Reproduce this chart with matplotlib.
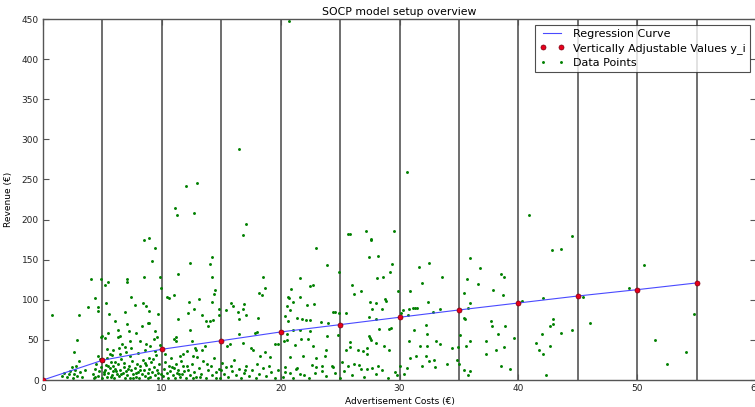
import numpy as np
import matplotlib
matplotlib.use("Agg")
import matplotlib.pyplot as plt

title = "SOCP model setup overview"
x_label = "Advertisement Costs (€)"
y_label = "Revenue (€)"
legend_labels = ["Regression Curve", "Vertically Adjustable Values y_i", "Data Points"]

reg_x = [0, 5, 10, 15, 20, 25, 30, 35, 40, 45, 50, 55]
reg_y = [0, 24.6, 38.3, 49.0, 59.9, 69.0, 78.2, 87.3, 96.0, 104.7, 112.6, 121.0]
vline_x = [5, 10, 15, 20, 25, 30, 35, 40, 45, 50, 55]

data_points = [
    # high / sparse
    (20.7, 448), (16.5, 288), (30.6, 259), (13.0, 245.6), (12.0, 242.3), (11.1, 214.5),
    (11.3, 205.3), (12.7, 208.6), (40.9, 205.7), (17.1, 194), (16.8, 180.4), (8.5, 174),
    (8.9, 177), (25.8, 182), (27.2, 185.4), (29.5, 185.4), (27.6, 175.4), (44.5, 179.6),
    (42.8, 161.7), (43.6, 163.8), (23.0, 164), (9.4, 165), (14.2, 153), (27.4, 153),
    (28.2, 155), (35.9, 152.5), (50.6, 143.4), (14.05, 144), (12.4, 145.5), (32.5, 145.5),
    (29.4, 145), (9.2, 148), (31.6, 140.5), (36.8, 139), (23.9, 143),
    # region 0-10
    (0.73, 80.6), (4.0, 126), (4.9, 125.5), (5.2, 119), (5.5, 122), (4.4, 102), (3.8, 90.6),
    (4.6, 91.4), (4.65, 86), (3.06, 80.6), (5.3, 95.6), (5.55, 82), (7.1, 125.5), (7.1, 122.6),
    (8.5, 128), (9.85, 128), (7.4, 103.5), (7.7, 94), (8.45, 96.4), (8.7, 92), (8.9, 86),
    (9.7, 82), (6.9, 85), (10.4, 103), (6.1, 73.5), (7.1, 69.4), (6.3, 62), (7.27, 60.7),
    (8.3, 67), (8.8, 71), (8.95, 71), (9.4, 61), (9.6, 53.6), (9.3, 50.7), (7.8, 59),
    (7.3, 48.6), (8.2, 49), (4.9, 53.6), (5.0, 55), (5.2, 52), (5.5, 58.6), (6.3, 53.6),
    (6.5, 55.3), (2.9, 49.5), (2.6, 35.3), (6.65, 44.5), (6.4, 40), (6.9, 41), (7.4, 39.5),
    (5.9, 38), (5.4, 39), (8.7, 44.5), (9.0, 42), (9.85, 43.6), (9.4, 36), (9.9, 115),
    (1.6, 5), (1.8, 9), (2.0, 4), (2.2, 7), (2.3, 11), (2.5, 3), (2.6, 8), (2.7, 13),
    (2.9, 5), (3.0, 24), (2.4, 16), (2.8, 18), (3.1, 10), (3.3, 4), (3.5, 12),
    (4.2, 8), (4.4, 14), (4.5, 20), (4.6, 5), (4.7, 11), (4.8, 26), (4.9, 16), (4.95, 3),
    (4.6, 30), (4.3, 2),
    (5.1, 7), (5.2, 12), (5.3, 19), (5.4, 4), (5.5, 9), (5.6, 15), (5.7, 22), (5.8, 6),
    (5.9, 11), (5.35, 28), (5.8, 31), (5.05, 24),
    (6.0, 3), (6.1, 14), (6.2, 8), (6.3, 20), (6.4, 5), (6.5, 12), (6.6, 26), (6.7, 9),
    (6.8, 16), (6.9, 3), (6.45, 33), (6.05, 22),
    (7.0, 11), (7.1, 6), (7.2, 18), (7.3, 2), (7.4, 13), (7.5, 24), (7.6, 8), (7.7, 15),
    (7.8, 4), (7.9, 20), (7.35, 30),
    (8.0, 10), (8.1, 3), (8.2, 17), (8.3, 7), (8.4, 25), (8.5, 12), (8.6, 5), (8.7, 19),
    (8.8, 9), (8.9, 28), (8.95, 14),
    (9.0, 4), (9.1, 22), (9.2, 10), (9.3, 16), (9.4, 6), (9.5, 31), (9.6, 13), (9.7, 2),
    (9.8, 20), (9.9, 8),
    (5.15, 10), (5.45, 17), (5.75, 4), (6.15, 11), (6.55, 7), (6.85, 21), (7.15, 14),
    (7.55, 3), (7.85, 9), (8.15, 13), (8.55, 21), (8.85, 3), (9.25, 26), (9.65, 9),
    (5.6, 33), (7.0, 35), (8.0, 34), (8.6, 37), (4.4, 4), (5.9, 17),
    # region 10-20
    (14.25, 128), (11.4, 132), (11.0, 105.6), (10.6, 102.6), (13.1, 101), (14.5, 112),
    (14.4, 107), (14.2, 97), (12.3, 97), (12.7, 88), (11.4, 75.6), (12.2, 83), (13.4, 81),
    (13.7, 73), (14.05, 73.6), (14.3, 74.4), (13.9, 67), (14.8, 88.5), (14.8, 80.6),
    (12.4, 62), (11.2, 53.6), (11.2, 48.6), (11.0, 50.7), (15.8, 96.4), (15.4, 87.7),
    (16.0, 92), (16.4, 85), (16.8, 89), (17.1, 81), (16.5, 76.5), (16.9, 94.8),
    (18.5, 129), (18.7, 115), (18.2, 109), (18.4, 105.6), (18.1, 77.7), (17.8, 59),
    (18.0, 60), (16.5, 57), (16.8, 46.5), (15.7, 44.5), (15.5, 42.4), (17.5, 39.5),
    (17.7, 38), (18.7, 35), (18.3, 30), (19.1, 29), (19.5, 44.5), (19.8, 44.5),
    (12.5, 48.6), (12.75, 40), (12.1, 36), (11.8, 32), (11.5, 30), (12.9, 37), (13.4, 38),
    (13.6, 42.4), (12.65, 29.5), (13.0, 28.7),
    (10.1, 5), (10.2, 14), (10.3, 22), (10.4, 9), (10.5, 3), (10.6, 18), (10.7, 11),
    (10.8, 27), (10.9, 6), (11.0, 15), (11.1, 2), (11.2, 20), (11.3, 9), (11.4, 13),
    (11.5, 4), (11.6, 24), (11.7, 8), (11.8, 17), (11.9, 11), (12.0, 3), (12.2, 13),
    (12.4, 6), (12.5, 20), (12.7, 10), (12.9, 4), (13.1, 15), (13.3, 8), (13.5, 24),
    (13.7, 3), (13.9, 12), (14.1, 18), (14.2, 6), (14.4, 27), (14.6, 10), (14.8, 14),
    (14.9, 3), (15.1, 21), (15.2, 8), (15.4, 16), (15.6, 4), (15.9, 11), (16.2, 6),
    (16.5, 14), (16.7, 2), (16.9, 9), (17.1, 18), (17.3, 5), (17.6, 12), (17.9, 3),
    (18.2, 8), (18.5, 15), (18.8, 5), (19.2, 10), (19.5, 3), (19.8, 13),
    (10.3, 33), (10.85, 16), (11.45, 7), (12.1, 18), (12.6, 2), (13.2, 4), (13.8, 20),
    (14.6, 2), (15.0, 12), (15.8, 18), (16.1, 25), (17.0, 12), (18.0, 20), (19.0, 17),
    # region 20-30
    (25.7, 181.6), (27.6, 175), (24.95, 134.7), (29.2, 134.7), (28.6, 129), (28.1, 127.6),
    (21.6, 127.6), (20.9, 114), (22.7, 119), (22.5, 117), (26.0, 118), (26.2, 107),
    (26.8, 111), (29.9, 111), (20.6, 103.5), (20.7, 102), (21.0, 97.7), (20.5, 92),
    (20.8, 87), (21.6, 103.5), (22.25, 94), (22.8, 95), (24.4, 84.8), (24.6, 85),
    (24.9, 83.5), (25.5, 84), (27.5, 97), (28.0, 95.6), (28.8, 100.6), (28.9, 98.5),
    (28.5, 88), (27.7, 88), (27.4, 78.5), (28.0, 75.6), (28.3, 64), (29.1, 64), (29.3, 65),
    (20.4, 80), (20.6, 73.6), (21.4, 77.7), (21.8, 75.6), (22.1, 74.4), (22.5, 75),
    (23.4, 72.7), (24.0, 71.5), (21.0, 62), (21.6, 62.8), (22.5, 61), (20.5, 57),
    (20.5, 50), (20.3, 48.6), (21.2, 43.6), (21.7, 50.7), (22.3, 51.5), (22.7, 43),
    (23.9, 55), (23.8, 38), (24.8, 56), (25.8, 47.4), (25.8, 41.6), (25.5, 38), (26.5, 38),
    (27.4, 55), (27.5, 52), (27.6, 49.5), (28.0, 46.5), (27.3, 40.3), (26.9, 36),
    (27.3, 33), (28.7, 43), (29.1, 38), (20.8, 28.7), (21.9, 29.5), (22.98, 27.8),
    (23.7, 30), (22.6, 18.3), (23.0, 16), (23.5, 17.5), (24.3, 17.5), (24.4, 16.5),
    (21.4, 15.4), (21.3, 14), (20.4, 10), (20.75, 9), (20.4, 15.8), (22.0, 5.8),
    (22.9, 8.3), (23.5, 11), (25.2, 23), (25.3, 11), (25.7, 17.5), (26.2, 19.5),
    (26.6, 18.7), (26.8, 13.7), (27.3, 13.7), (27.7, 14.5), (28.2, 17.5), (28.5, 12),
    (29.6, 10), (30.0, 17.5),
    (20.2, 4), (21.0, 2), (21.6, 8), (22.4, 3), (23.8, 5), (24.6, 9), (25.0, 3),
    (26.0, 6), (27.0, 4), (28.0, 8), (29.0, 3), (29.8, 6),
    # region 30-40
    (33.6, 128), (38.5, 131.8), (38.8, 128), (35.7, 126), (31.9, 120.5), (36.6, 120),
    (30.9, 111), (35.4, 108.5), (37.9, 112), (38.7, 105.6), (32.4, 96.8), (35.9, 96.4),
    (35.8, 90.2), (30.3, 87.7), (30.8, 89), (31.1, 90), (31.3, 90), (31.45, 90),
    (30.1, 84), (30.7, 80.6), (32.85, 85), (33.4, 88), (35.4, 77), (35.5, 76),
    (37.7, 73), (37.8, 67), (38.9, 67), (38.3, 57), (39.6, 52.8), (31.2, 62.8),
    (32.2, 68.6), (32.3, 57), (33.1, 49), (33.4, 44.5), (30.8, 48.6), (31.7, 42),
    (32.3, 42), (34.4, 39.5), (34.9, 41.6), (35.1, 56.5), (35.6, 43), (35.9, 48),
    (37.3, 49), (38.1, 37.8), (38.8, 41.6), (30.9, 27.4), (31.4, 29.5), (32.2, 30.3),
    (32.5, 24), (32.9, 25), (31.9, 17.9), (33.0, 16.6), (34.0, 19.5), (34.8, 25),
    (35.0, 20), (30.6, 14.5), (30.4, 7.9), (35.4, 12.5), (35.9, 11), (35.8, 6.2),
    (37.3, 32), (38.5, 17.5), (39.3, 13.3),
    # region 40-55
    (40.35, 98.5), (42.1, 101.8), (45.4, 103.5), (49.3, 114.3), (42.9, 76.5), (42.9, 70),
    (42.7, 67.7), (46.05, 71), (44.5, 62.8), (43.6, 58.2), (42.0, 57.8), (41.5, 46),
    (42.7, 42.8), (41.7, 37), (42.1, 32), (42.3, 6.6), (51.5, 50.3), (54.1, 34.5),
    (52.5, 19.6), (54.8, 82),
]

data_x = np.array([p[0] for p in data_points])
data_y = np.array([p[1] for p in data_points])

fig = plt.figure(figsize=(7.55, 4.07), dpi=100, facecolor="white")
ax = fig.add_axes([43 / 755, 27 / 407, 713 / 755, 361 / 407])
ax.set_facecolor("white")

for xv in vline_x:
    ax.axvline(xv, color="#555555", lw=1.2, zorder=1)

l1, = ax.plot(reg_x, reg_y, color="#4a4aff", lw=0.8, zorder=3)
l2, = ax.plot(reg_x, reg_y, "o", color="#e8001c", mec="#7a0010", mew=0.5, ms=3.6,
              zorder=4)
l3, = ax.plot(data_x, data_y, "o", color="#008000", mec="#008000", mew=0, ms=2.1, zorder=2)

ax.set_xlim(0, 60)
ax.set_ylim(0, 450)
ax.set_xticks(np.arange(0, 61, 10))
ax.set_yticks(np.arange(0, 451, 50))
ax.tick_params(direction="in", top=True, right=True, labelsize=6.5, length=4,
               color="#555555", labelcolor="#222222", pad=3)
for s in ax.spines.values():
    s.set_color("#555555")
    s.set_linewidth(1.0)

ax.set_title(title, fontsize=7.8, pad=3)
ax.set_xlabel(x_label, fontsize=6.5, labelpad=3)
ax.set_ylabel(y_label, fontsize=6.5, labelpad=6)

leg = ax.legend([l1, l2, l3], legend_labels, loc="upper right", numpoints=2,
                fontsize=8, frameon=True, fancybox=False, borderaxespad=0.5,
                handlelength=2.2, borderpad=0.4, labelspacing=0.35)
leg.get_frame().set_edgecolor("#222222")
leg.get_frame().set_linewidth(0.8)

fig.savefig("out.png", dpi=100)
